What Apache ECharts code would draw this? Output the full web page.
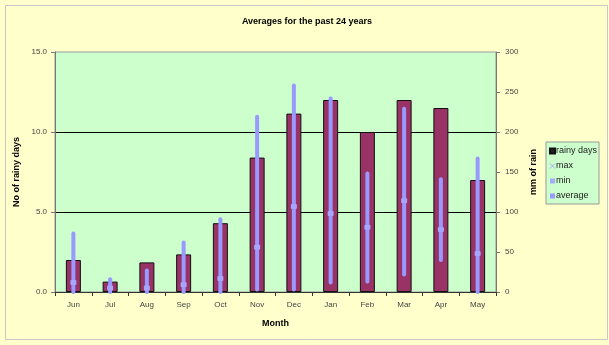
<!DOCTYPE html>
<html><head><meta charset="utf-8">
<script src="https://cdn.jsdelivr.net/npm/echarts@6/dist/echarts.min.js"></script>
<style>html,body{margin:0;padding:0;background:#fff}#c{width:609px;height:345px}</style>
</head><body><div id="c"></div>
<script>
const months = ['Jun','Jul','Aug','Sep','Oct','Nov','Dec','Jan','Feb','Mar','Apr','May'];
const rainyDays = [2.0, 0.65, 1.85, 2.35, 4.3, 8.4, 11.15, 12.0, 10.0, 12.0, 11.5, 7.0];
const maxRain = [73, 16, 27, 62, 91, 219, 258, 242, 148, 229, 141, 167];
const minRain = [0, 0, 0, 0, 0, 3, 3, 12, 13, 22, 40, 0];
const avgRain = [12, 5, 5, 9, 17, 56, 107, 98, 81, 114, 78, 48];
const leftTicks = [0, 5, 10, 15];
const rightTicks = [0, 50, 100, 150, 200, 250, 300];

const FONT = 'Liberation Sans, Arial, sans-serif';
const hiLow = months.map((m, i) => [i, minRain[i], maxRain[i], avgRain[i]]);

const chart = echarts.init(document.getElementById('c'), null, {renderer: 'canvas'});
chart.setOption({
  backgroundColor: '#FFFFCC',
  animation: false,
  textStyle: {fontFamily: FONT},
  graphic: [{
    type: 'rect', left: 3, top: 3, shape: {width: 602, height: 334},
    style: {fill: 'none', stroke: '#C8C8C8', lineWidth: 1}, silent: true
  }],
  title: {
    text: 'Averages for the past 24 years', left: 302, top: 12, textAlign: 'center',
    textStyle: {fontSize: 9, fontWeight: 'bold', color: '#000', fontFamily: FONT}
  },
  legend: {
    orient: 'vertical', left: 546, top: 142, width: 53,
    backgroundColor: '#CCFFCC', borderColor: '#999', borderWidth: 1,
    padding: [4, 2, 3, 3], itemGap: 5, itemWidth: 5, itemHeight: 5,
    textStyle: {fontSize: 9, color: '#222', fontFamily: FONT, padding: [0, 0, 0, -4], lineHeight: 10},
    data: [
      {name: 'rainy days', icon: 'rect', itemStyle: {color: '#222'}},
      {name: 'max', icon: 'path://M0,0L10,10M10,0L0,10', itemStyle: {color: '#9999FF', borderColor: '#9999FF', borderWidth: 1}},
      {name: 'min', icon: 'rect', itemStyle: {color: '#9999FF'}},
      {name: 'average', icon: 'rect', itemStyle: {color: '#9999FF'}}
    ]
  },
  grid: {left: 55, right: 113, top: 52, bottom: 53, show: true, backgroundColor: '#CCFFCC', borderColor: '#999', borderWidth: 1},
  xAxis: {
    type: 'category', data: months, name: 'Month', nameLocation: 'middle', nameGap: 27,
    nameTextStyle: {fontSize: 9, fontWeight: 'bold', color: '#000'},
    axisLine: {lineStyle: {color: '#333'}},
    axisTick: {show: true, length: 4, lineStyle: {color: '#333'}},
    axisLabel: {fontSize: 8, color: '#444', margin: 9}
  },
  yAxis: [{
    type: 'value', min: leftTicks[0], max: leftTicks[leftTicks.length - 1], interval: 5,
    name: 'No of rainy days', nameLocation: 'middle', nameGap: 29, nameRotate: 90,
    nameTextStyle: {fontSize: 9, fontWeight: 'bold', color: '#000'},
    axisLine: {show: true, lineStyle: {color: '#777'}},
    axisTick: {show: true, length: 4, lineStyle: {color: '#777'}},
    axisLabel: {fontSize: 8, color: '#444', margin: 8, formatter: v => v.toFixed(1)},
    splitLine: {show: true, showMinLine: false, showMaxLine: false, lineStyle: {color: '#000', width: 1}}
  }, {
    type: 'value', min: rightTicks[0], max: rightTicks[rightTicks.length - 1], interval: 50,
    name: 'mm of rain', nameLocation: 'middle', nameGap: 27, nameRotate: 90,
    nameTextStyle: {fontSize: 9, fontWeight: 'bold', color: '#000'},
    axisLine: {show: true, lineStyle: {color: '#777'}},
    axisTick: {show: true, length: 4, lineStyle: {color: '#777'}},
    axisLabel: {fontSize: 8, color: '#444', margin: 9},
    splitLine: {show: false}
  }],
  series: [{
    name: 'rainy days', type: 'bar', data: rainyDays, yAxisIndex: 0, barWidth: 15,
    itemStyle: {color: '#993366', borderColor: '#111', borderWidth: 1}
  }, {
    name: 'average', type: 'custom', yAxisIndex: 1, data: hiLow, z: 5,
    renderItem: function (params, api) {
      const i = api.value(0);
      const top = api.coord([i, api.value(2)]);
      const bot = api.coord([i, api.value(1)]);
      const av = api.coord([i, api.value(3)]);
      return {type: 'group', children: [
        {type: 'line', shape: {x1: top[0], y1: top[1], x2: bot[0], y2: bot[1]},
         style: {stroke: '#9999FF', lineWidth: 4, lineCap: 'round'}},
        {type: 'rect', shape: {x: av[0] - 3, y: av[1] - 2.5, width: 6, height: 5, r: 1},
         style: {fill: '#A6A6FF'}}
      ]};
    },
    itemStyle: {color: '#9999FF'}
  }, {
    name: 'max', type: 'scatter', yAxisIndex: 1, data: maxRain, symbol: 'circle', symbolSize: 3, z: 6,
    itemStyle: {color: '#9999FF'}
  }, {
    name: 'min', type: 'scatter', yAxisIndex: 1, data: minRain, symbol: 'circle', symbolSize: 3, z: 6,
    itemStyle: {color: '#9999FF'}
  }]
});
</script></body></html>
